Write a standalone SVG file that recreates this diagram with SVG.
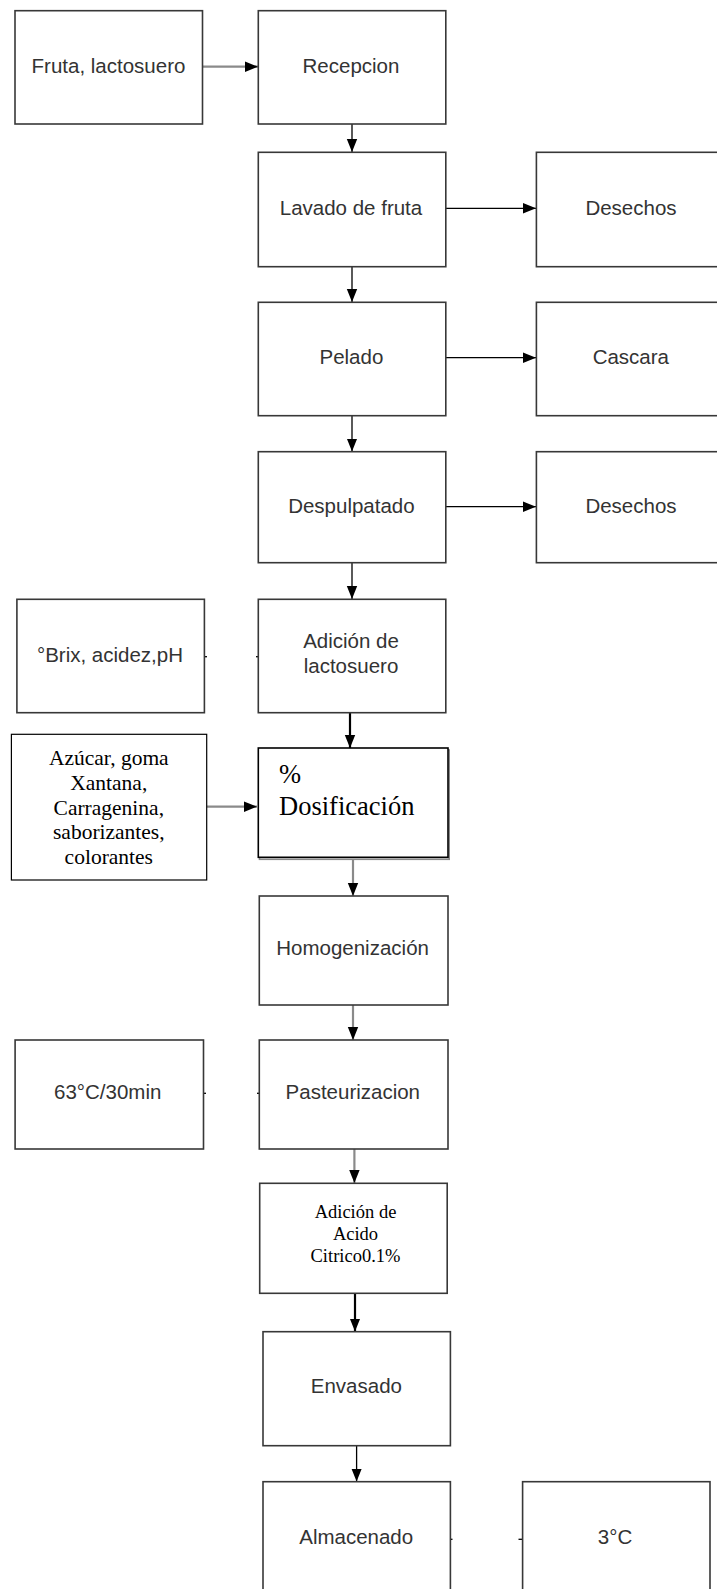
<svg xmlns="http://www.w3.org/2000/svg" width="717" height="1589" viewBox="0 0 717 1589">
<style>
.b{fill:#fff;stroke:#383838;stroke-width:1.6}
.bk{fill:#fff;stroke:#000;stroke-width:1.2}
.t{font-family:"Liberation Sans",Arial,sans-serif;font-size:20.5px;fill:#333;text-anchor:middle}
.s{font-family:"Liberation Serif","Times New Roman",serif;fill:#000}
.c{stroke:#000;stroke-width:1.3;fill:none}
.g{stroke:#8a8a8a;stroke-width:2.2;fill:none}
.k{stroke:#000;stroke-width:2.2;fill:none}
</style>
<defs>
<marker id="ah" markerUnits="userSpaceOnUse" markerWidth="14" markerHeight="14" viewBox="0 0 14 14" refX="13" refY="7" orient="auto">
<path d="M0,1.8 L13,7 L0,12.2 Z" fill="#000"/>
</marker>
</defs>
<rect width="717" height="1589" fill="#fff"/>
<g id="connectors">
<line class="g" x1="203" y1="66.7" x2="258" y2="66.7" marker-end="url(#ah)"/>
<line class="c" x1="352" y1="124" x2="352" y2="152" marker-end="url(#ah)"/>
<line class="c" x1="446" y1="208.3" x2="536" y2="208.3" marker-end="url(#ah)"/>
<line class="c" x1="352" y1="266.7" x2="352" y2="302" marker-end="url(#ah)"/>
<line class="c" x1="446" y1="357.7" x2="536" y2="357.7" marker-end="url(#ah)"/>
<line class="c" x1="352" y1="415.7" x2="352" y2="451.5" marker-end="url(#ah)"/>
<line class="c" x1="446" y1="506.7" x2="536" y2="506.7" marker-end="url(#ah)"/>
<line class="c" x1="352" y1="562.7" x2="352" y2="599" marker-end="url(#ah)"/>
<line class="k" x1="350" y1="706" x2="350" y2="748" marker-end="url(#ah)"/>
<line class="g" x1="207" y1="806.7" x2="257" y2="806.7" marker-end="url(#ah)"/>
<line class="g" x1="353" y1="859" x2="353" y2="896" marker-end="url(#ah)"/>
<line class="g" x1="353" y1="1005" x2="353" y2="1040" marker-end="url(#ah)"/>
<line class="g" x1="354.4" y1="1149" x2="354.4" y2="1183" marker-end="url(#ah)"/>
<line class="k" x1="355" y1="1293.3" x2="355" y2="1331.5" marker-end="url(#ah)"/>
<line class="c" x1="356.6" y1="1445.7" x2="356.6" y2="1481.5" marker-end="url(#ah)"/>
<line class="c" x1="204.5" y1="656.7" x2="207" y2="656.7"/>
<line class="c" x1="256" y1="656.7" x2="258.5" y2="656.7"/>
<line class="c" x1="203.5" y1="1093.3" x2="206" y2="1093.3"/>
<line class="c" x1="257" y1="1093.3" x2="259.5" y2="1093.3"/>
<line class="c" x1="450.4" y1="1539.3" x2="452.5" y2="1539.3"/>
<line class="c" x1="518.5" y1="1539.3" x2="522.6" y2="1539.3"/>
</g>
<g id="n-fruta"><rect class="b" x="15" y="10.7" width="187.5" height="113.3"/><text class="t" x="108.5" y="72.7">Fruta, lactosuero</text></g>
<g id="n-recepcion"><rect class="b" x="258.3" y="10.7" width="187.5" height="113.3"/><text class="t" x="351" y="72.7">Recepcion</text></g>
<g id="n-lavado"><rect class="b" x="258.3" y="152.3" width="187.5" height="114.4"/><text class="t" x="351" y="215">Lavado de fruta</text></g>
<g id="n-desechos1"><rect class="b" x="536.4" y="152.3" width="188" height="114.4"/><text class="t" x="631" y="215">Desechos</text></g>
<g id="n-pelado"><rect class="b" x="258.3" y="302.3" width="187.5" height="113.4"/><text class="t" x="351.4" y="364.3">Pelado</text></g>
<g id="n-cascara"><rect class="b" x="536.4" y="302.3" width="188" height="113.4"/><text class="t" x="630.8" y="364.3">Cascara</text></g>
<g id="n-despulpatado"><rect class="b" x="258.3" y="451.7" width="187.5" height="111"/><text class="t" x="351.4" y="512.5">Despulpatado</text></g>
<g id="n-desechos2"><rect class="b" x="536.4" y="451.7" width="188" height="111"/><text class="t" x="631" y="512.5">Desechos</text></g>
<g id="n-brix"><rect class="b" x="16.9" y="599.3" width="187.5" height="113.4"/><text class="t" x="110" y="661.7">°Brix, acidez,pH</text></g>
<g id="n-adicion"><rect class="b" x="258.3" y="599.3" width="187.5" height="113.4"/><text class="t" x="351" y="648">Adición de</text><text class="t" x="351" y="673">lactosuero</text></g>
<g id="n-azucar"><rect class="bk" x="11.4" y="734.3" width="195.3" height="145.7"/>
<text class="s" font-size="21.5" text-anchor="middle"><tspan x="108.8" y="765">Azúcar, goma</tspan><tspan x="108.8" y="789.5">Xantana,</tspan><tspan x="108.8" y="814.5">Carragenina,</tspan><tspan x="108.8" y="839">saborizantes,</tspan><tspan x="108.8" y="863.5">colorantes</tspan></text></g>
<g id="n-dosificacion"><rect x="259.5" y="750" width="189.7" height="109.3" fill="#fff" stroke="#8a8a8a" stroke-width="1.6"/><rect x="258.3" y="748" width="189.7" height="109.3" fill="#fff" stroke="#000" stroke-width="1.6"/>
<text class="s" font-size="26.5"><tspan x="279" y="783">%</tspan><tspan x="279" y="815">Dosificación</tspan></text></g>
<g id="n-homog"><rect class="b" x="259.3" y="896" width="188.7" height="109"/><text class="t" x="352.6" y="955">Homogenización</text></g>
<g id="n-63c"><rect class="b" x="15.1" y="1040" width="188.4" height="109"/><text class="t" x="107.7" y="1099">63°C/30min</text></g>
<g id="n-pasteur"><rect class="b" x="259.3" y="1040" width="188.7" height="109"/><text class="t" x="352.8" y="1099">Pasteurizacion</text></g>
<g id="n-acido"><rect class="b" x="259.7" y="1183.3" width="187.5" height="110"/>
<text class="s" font-size="18.5" text-anchor="middle"><tspan x="355.5" y="1218.3">Adición de</tspan><tspan x="355.5" y="1240">Acido</tspan><tspan x="355.5" y="1261.7">Citrico0.1%</tspan></text></g>
<g id="n-envasado"><rect class="b" x="263" y="1331.7" width="187.4" height="114"/><text class="t" x="356.4" y="1393">Envasado</text></g>
<g id="n-almacenado"><rect class="b" x="263" y="1481.7" width="187.4" height="130"/><text class="t" x="356.2" y="1544">Almacenado</text></g>
<g id="n-3c"><rect class="b" x="522.6" y="1481.7" width="187.4" height="130"/><text class="t" x="615" y="1544">3°C</text></g>
</svg>
